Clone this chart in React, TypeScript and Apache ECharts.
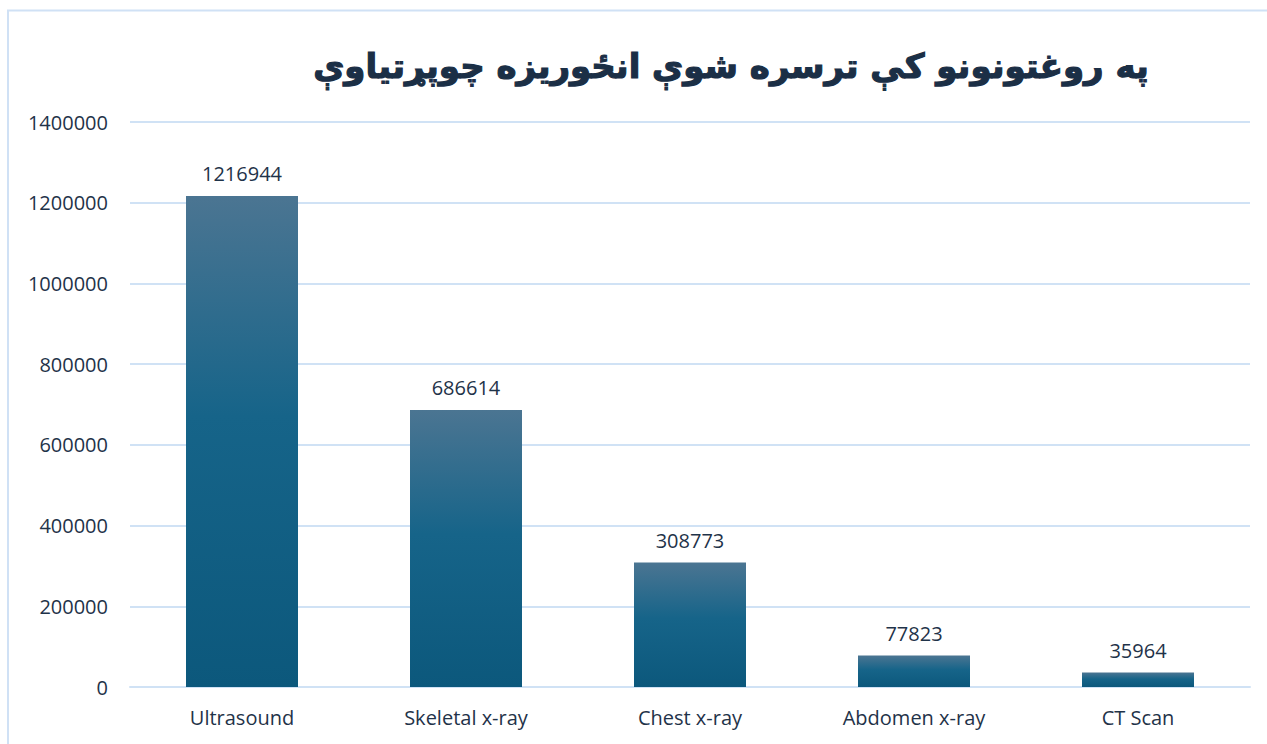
import React, { useEffect, useRef } from "react";
import * as echarts from "echarts";

const titleText = "په روغتونونو کې ترسره شوې انځوریزه چوپړتیاوې";
const categories = ["Ultrasound", "Skeletal x-ray", "Chest x-ray", "Abdomen x-ray", "CT Scan"];
const values = [1216944, 686614, 308773, 77823, 35964];
const yMax = 1400000;
const yInterval = 200000;

export default function App() {
  const ref = useRef<HTMLDivElement>(null);
  useEffect(() => {
    document.body.style.margin = "0";
    const chart = echarts.init(ref.current!, null, { renderer: "svg" });
    const labelColor = "#1f3349";
    const gridColor = "#d0e2f5";
    chart.setOption({
      animation: false,
      backgroundColor: "#ffffff",
      title: {
        text: titleText,
        left: 726,
        top: 44,
        textAlign: "center",
        textStyle: {
          fontFamily: "DejaVu Sans",
          fontWeight: "bold",
          fontSize: 34,
          color: "#1b2f46",
          textBorderColor: "#1b2f46",
          textBorderWidth: 1.2,
        },
      },
      graphic: [
        {
          type: "rect",
          shape: { x: 8, y: 10.5, width: 1400, height: 900 },
          style: { fill: "none", stroke: "#d0e1f5", lineWidth: 2 },
          silent: true,
        },
      ],
      grid: { left: 130, right: 17, top: 122, bottom: 57 },
      xAxis: {
        type: "category",
        data: categories,
        axisLine: { show: true, lineStyle: { color: gridColor, width: 2 } },
        axisTick: { show: false },
        axisLabel: {
          color: labelColor,
          fontFamily: "Open Sans",
          fontSize: 20,
          margin: 20,
        },
      },
      yAxis: {
        type: "value",
        min: 0,
        max: yMax,
        interval: yInterval,
        axisLine: { show: false },
        axisTick: { show: false },
        splitLine: { lineStyle: { color: gridColor, width: 2 } },
        axisLabel: {
          color: labelColor,
          fontFamily: "Open Sans",
          fontSize: 20,
          margin: 22,
          formatter: (v: number) => String(v),
        },
      },
      series: [
        {
          type: "bar",
          data: values,
          barWidth: "50%",
          itemStyle: {
            color: new echarts.graphic.LinearGradient(0, 0, 0, 1, [
              { offset: 0, color: "#4b7592" },
              { offset: 0.45, color: "#166489" },
              { offset: 1, color: "#0c587c" },
            ]),
          },
          label: {
            show: true,
            position: "top",
            distance: 12,
            color: labelColor,
            fontFamily: "Open Sans",
            fontSize: 20,
          },
        },
      ],
    });
    return () => chart.dispose();
  }, []);
  return <div ref={ref} style={{ width: 1267, height: 744 }} />;
}
